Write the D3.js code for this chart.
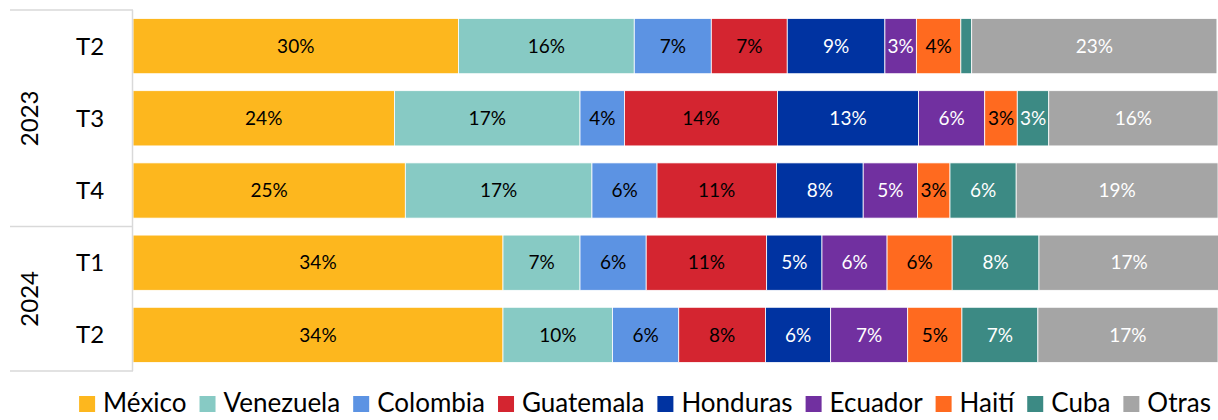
<!DOCTYPE html>
<meta charset="utf-8">
<style>* {padding:0; margin:0; border: 0; outline: 0;} body {background:#fff;}</style>
<body>
<script src="https://cdn.jsdelivr.net/npm/d3@7"></script>
<script>

// data (share of total, per quarter)
var years = ["2023", "2023", "2023", "2024", "2024"]
var quarters = ["T2", "T3", "T4", "T1", "T2"]
var countries = ["México", "Venezuela", "Colombia", "Guatemala", "Honduras", "Ecuador", "Haití", "Cuba", "Otras"]
var colors = ["#FDB71E", "#87CAC4", "#5C93E3", "#D42530", "#0033A1", "#7130A0", "#FF6A1F", "#3C8A84", "#A5A5A5"]
var labelColors = ["#000", "#000", "#000", "#000", "#fff", "#fff", "#000", "#fff", "#fff"]

var mexico    = [30.0, 24.1, 25.1, 34.1, 34.1]
var venezuela = [16.2, 17.1, 17.2,  7.1, 10.1]
var colombia  = [ 7.1,  4.1,  6.0,  6.1,  6.1]
var guatemala = [ 7.0, 14.1, 11.0, 11.1,  8.0]
var honduras  = [ 9.0, 13.0,  8.0,  5.1,  6.0]
var ecuador   = [ 2.9,  6.1,  5.0,  6.0,  7.1]
var haiti     = [ 4.1,  3.0,  3.0,  6.0,  5.0]
var cuba      = [ 1.0,  2.9,  6.1,  8.0,  7.0]
var otras     = [22.6, 15.6, 18.6, 16.6, 16.6]

var series = [mexico, venezuela, colombia, guatemala, honduras, ecuador, haiti, cuba, otras]

width = 1218
height = 420
font = "Lato, 'Open Sans', sans-serif"

svg = d3.select('body').append('svg')
  .attr('width', width)
  .attr('height', height)
  .style('font-family', font)

rows = quarters.map(function(q, i){ return i })

x = d3.scaleLinear().domain([0, 100]).range([133, 1218])
y = d3.scaleBand().domain(rows).range([10, 371]).paddingInner(0.235).paddingOuter(0.1175)

// stack the segments
segs = []
rows.forEach(function(r){
  var acc = 0
  series.forEach(function(s, k){
    segs.push({row: r, k: k, x0: acc, x1: acc + s[r], v: s[r]})
    acc += s[r]
  })
})

svg.append('g').selectAll('rect')
  .data(segs)
.enter().append('rect')
  .attr('x', function(d){ return x(d.x0) })
  .attr('y', function(d){ return y(d.row) })
  .attr('width', function(d){ return x(d.x1) - x(d.x0) })
  .attr('height', y.bandwidth())
  .style('fill', function(d){ return colors[d.k] })
  .style('stroke', '#fff')
  .style('stroke-width', 0.8)

svg.append('g').selectAll('text')
  .data(segs.filter(function(d){ return d.v >= 1.5 }))
.enter().append('text')
  .attr('x', function(d){ return (x(d.x0) + x(d.x1)) / 2 })
  .attr('y', function(d){ return y(d.row) + y.bandwidth() / 2 })
  .attr('dy', '0.35em')
  .attr('text-anchor', 'middle')
  .style('font-size', '19px')
  .style('fill', function(d){ return labelColors[d.k] })
  .text(function(d){ return d3.format('.0f')(d.v) + '%' })

// category axis, two levels
var axisColor = '#d9d9d9'
ax = svg.append('g')
ax.append('line').attr('x1', 132.5).attr('x2', 132.5).attr('y1', 10).attr('y2', 371)
  .style('stroke', axisColor).style('stroke-width', 1.5)

var groups = d3.groups(rows, function(r){ return years[r] })
var edges = [y.range()[0]]
groups.forEach(function(g){
  var last = g[1][g[1].length - 1]
  edges.push(y(last) + y.step() * (1 - y.paddingInner() / 2))
})
edges[edges.length - 1] = y.range()[1]

ax.selectAll('line.sep')
  .data(edges)
.enter().append('line')
  .attr('class', 'sep')
  .attr('x1', 10).attr('x2', 133)
  .attr('y1', function(d){ return d }).attr('y2', function(d){ return d })
  .style('stroke', axisColor).style('stroke-width', 1.5)

ax.selectAll('text.q')
  .data(rows)
.enter().append('text')
  .attr('class', 'q')
  .attr('x', 90)
  .attr('y', function(r){ return y(r) + y.bandwidth() / 2 })
  .attr('dy', '0.35em')
  .attr('text-anchor', 'middle')
  .style('font-size', '24px')
  .text(function(r){ return quarters[r] })

ax.selectAll('text.yr')
  .data(groups)
.enter().append('text')
  .attr('class', 'yr')
  .attr('transform', function(g, i){
    var cy = (edges[i] + edges[i + 1]) / 2
    return 'translate(30,' + cy + ') rotate(-90)'
  })
  .attr('dy', '0.35em')
  .attr('text-anchor', 'middle')
  .style('font-size', '24px')
  .text(function(g){ return g[0] })

// legend
leg = svg.append('g')
var lx = 0
var items = leg.selectAll('g')
  .data(countries)
.enter().append('g')
items.append('rect')
  .attr('width', 16).attr('height', 16).attr('y', -7)
  .style('fill', function(d, i){ return colors[i] })
items.append('text')
  .attr('x', 24)
  .attr('dy', '0.35em')
  .style('font-size', '26px')
  .text(function(d){ return d })
items.each(function(){
  var g = d3.select(this)
  g.attr('transform', 'translate(' + lx + ',0)')
  lx += 24 + g.select('text').node().getComputedTextLength() + 13
})
lx -= 13
leg.attr('transform', 'translate(' + (645 - lx / 2) + ',403)')

</script>
